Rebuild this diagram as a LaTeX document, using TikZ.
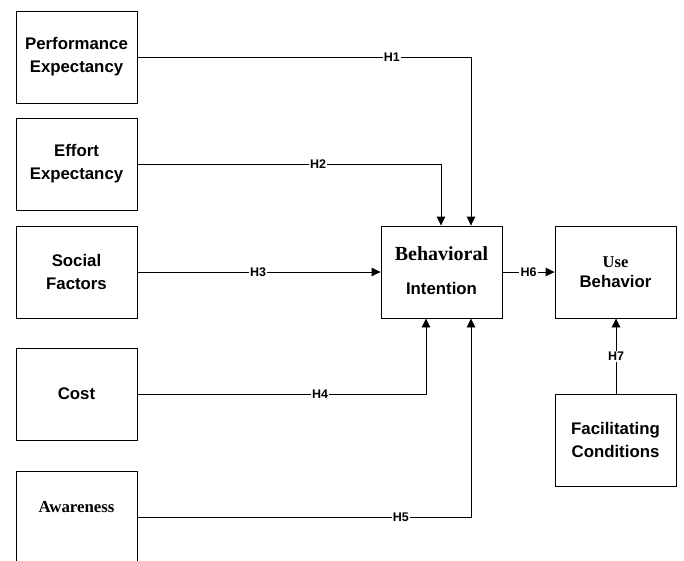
\documentclass[tikz,border=0pt]{standalone}
\usepackage{fontspec}
\setmainfont{Liberation Sans}
\newfontfamily\tnr{Liberation Serif}
\usetikzlibrary{arrows.meta,calc}
\tikzset{
  box/.style={draw, line width=0.9pt, minimum width=121pt, minimum height=92pt, inner sep=0pt, align=center, font=\fontsize{16.8}{23}\selectfont\bfseries},
  conn/.style={line width=0.9pt},
  arr/.style={conn, -{Triangle[length=9pt,width=8.5pt]}},
  lab/.style={fill=white, inner sep=1.2pt, font=\fontsize{12.5}{14}\selectfont\bfseries}
}
\begin{document}
\begin{tikzpicture}[x=1pt,y=-1pt]
\clip (0,0) rectangle (684,560);
\fill[white] (0,0) rectangle (684,560);
\node[box] (pe) at (76.5,57) {Performance\\Expectancy};
\node[box] (ee) at (76.5,164) {Effort\\Expectancy};
\node[box] (sf) at (76.5,272) {Social\\Factors};
\node[box] (co) at (76.5,394) {Cost};
\node[box] (aw) at (76.5,517) {};
\node[font=\tnr\fontsize{16.8}{18}\selectfont\bfseries] (awt) at (76.5,507) {Awareness};
\node[box] (bi) at (441.5,272) {};
\node[font=\tnr\fontsize{20}{22}\selectfont\bfseries] (bit1) at (441.5,254) {Behavioral};
\node[font=\fontsize{16.8}{18}\selectfont\bfseries] (bit2) at (441.5,288) {Intention};
\node[box] (ub) at (615.5,272) {};
\node[font=\tnr\fontsize{16.5}{18}\selectfont\bfseries] (ubt1) at (615.5,262) {Use};
\node[font=\fontsize{16.8}{18}\selectfont\bfseries] (ubt2) at (615.5,281) {Behavior};
\node[box] (fc) at (615.5,440) {Facilitating\\Conditions};
\coordinate (c1) at ($(bi.north)+(29.5,0)$);
\coordinate (c2) at ($(bi.north)+(-0.5,0)$);
\coordinate (c4) at ($(bi.south)+(-15.5,0)$);
\coordinate (c5) at ($(bi.south)+(29.5,0)$);
\coordinate (u7) at ($(ub.south)+(0.5,0)$);
\draw[arr] (pe.east) -- node[lab,pos=0.763]{H1} (c1 |- pe.east) -- (c1);
\draw[arr] (ee.east) -- node[lab,pos=0.595]{H2} (c2 |- ee.east) -- (c2);
\draw[arr] (sf.east) -- node[lab,pos=0.496]{H3} (bi.west);
\draw[arr] (co.east) -- node[lab,pos=0.633]{H4} (c4 |- co.east) -- (c4);
\draw[arr] (aw.east) -- node[lab,pos=0.79]{H5} (c5 |- aw.east) -- (c5);
\draw[arr] (bi.east) -- node[lab]{H6} (ub.west);
\draw[arr] (u7 |- fc.north) -- node[lab]{H7} (u7);
\end{tikzpicture}
\end{document}
